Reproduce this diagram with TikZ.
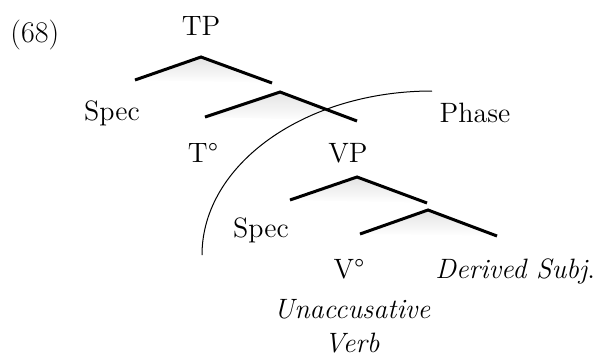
\documentclass[tikz,border=0pt]{standalone}
\usepackage{fontspec}
\begin{document}
\begin{tikzpicture}[
    x=0.5pt, y=-0.5pt,
    every node/.style={font=\fontsize{14}{17}\selectfont, inner sep=0pt},
    lab/.style={anchor=base},
    branch/.style={line width=1.5pt},
    shadow/.style={top color=gray!22, bottom color=white, draw=none},
    phase/.style={line width=0.5pt}
]
    \useasboundingbox (0,0) rectangle (596,360);

    % labels
    \node[lab, anchor=base west] (ex) at (10,42) {\fontsize{15}{17}\selectfont(68)};
    \node[lab] (tp) at (201,35) {TP};
    \node[lab] (spec1) at (112,120) {Spec};
    \node[lab] (t) at (203,162) {T°};
    \node[lab] (vp) at (348,162) {VP};
    \node[lab] (phase) at (475,122) {Phase};
    \node[lab] (spec2) at (261,237) {Spec};
    \node[lab] (v) at (349,278) {V°};
    \node[lab, anchor=base west] (subj) at (435,278) {\itshape Derived Subj\upshape.};
    \node[lab] (unacc) at (352,318) {\itshape Unaccusative};
    \node[lab] (verb) at (352,352) {\itshape Verb};

    % branch points
    \coordinate (a1) at (201,57);  \coordinate (l1) at (135,80);  \coordinate (r1) at (272,83);
    \coordinate (a2) at (280,92);  \coordinate (l2) at (205,117); \coordinate (r2) at (357,121);
    \coordinate (a3) at (357,177); \coordinate (l3) at (290,200); \coordinate (r3) at (427,203);
    \coordinate (a4) at (428,210); \coordinate (l4) at (360,234); \coordinate (r4) at (497,236);

    % shadows
    \shade[shadow] (l1) -- (a1) -- (r1) -- cycle;
    \shade[shadow] (l2) -- (a2) -- (r2) -- cycle;
    \shade[shadow] (l3) -- (a3) -- (r3) -- cycle;
    \shade[shadow] (l4) -- (a4) -- (r4) -- cycle;

    % branches
    \draw[branch] (l1) -- (a1) -- (r1);
    \draw[branch] (l2) -- (a2) -- (r2);
    \draw[branch] (l3) -- (a3) -- (r3);
    \draw[branch] (l4) -- (a4) -- (r4);

    % phase boundary
    \coordinate (p0) at (202,255);
    \draw[phase] (p0) arc[start angle=180, end angle=270, x radius=230, y radius=164];
\end{tikzpicture}
\end{document}
